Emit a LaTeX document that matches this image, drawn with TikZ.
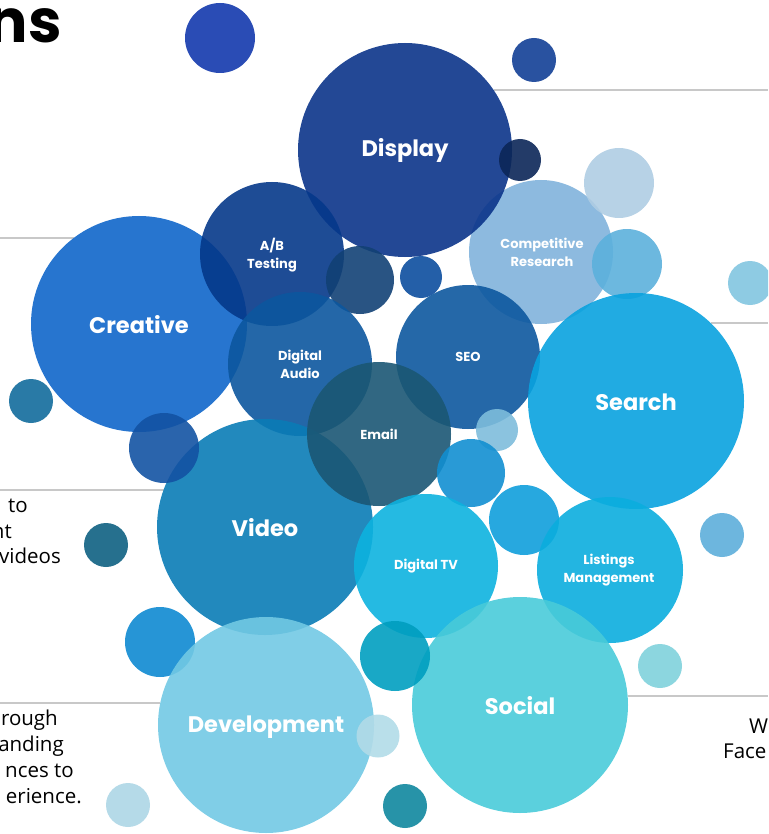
\documentclass[tikz,border=0pt]{standalone}
\usepackage{fontspec}
\setmainfont{Open Sans}
\newfontfamily\labfont{Poppins}
\newfontfamily\headfont{Poppins}
\definecolor{ruleGrey}{RGB}{200,200,200}
\definecolor{cTopBlue}{RGB}{19,57,173}
\definecolor{cTopRight}{RGB}{18,63,150}
\definecolor{cDisplay}{RGB}{11,52,138}
\definecolor{cDarkSmall}{RGB}{11,38,88}
\definecolor{cLightTR}{RGB}{175,205,227}
\definecolor{cAB}{RGB}{5,56,138}
\definecolor{cDarkMid}{RGB}{18,65,117}
\definecolor{cSmallMid}{RGB}{12,78,158}
\definecolor{cComp}{RGB}{129,179,220}
\definecolor{cCompSide}{RGB}{92,176,220}
\definecolor{cRightPale}{RGB}{130,197,224}
\definecolor{cCreative}{RGB}{15,102,202}
\definecolor{cLeftTeal}{RGB}{18,108,156}
\definecolor{cUnderCreative}{RGB}{19,83,163}
\definecolor{cAudio}{RGB}{12,87,158}
\definecolor{cSEO}{RGB}{13,88,159}
\definecolor{cSearch}{RGB}{9,162,223}
\definecolor{cEmail}{RGB}{27,87,116}
\definecolor{cPaleMid}{RGB}{126,189,220}
\definecolor{cMidBlue}{RGB}{18,143,209}
\definecolor{cVideo}{RGB}{10,124,182}
\definecolor{cLeftDark}{RGB}{14,96,130}
\definecolor{cSky}{RGB}{15,158,219}
\definecolor{cDTV}{RGB}{13,178,223}
\definecolor{cListings}{RGB}{11,173,222}
\definecolor{cRightSky}{RGB}{93,174,218}
\definecolor{cRightAqua}{RGB}{128,209,220}
\definecolor{cLeftSky}{RGB}{14,138,209}
\definecolor{cDev}{RGB}{114,201,228}
\definecolor{cTeal}{RGB}{0,158,192}
\definecolor{cSocial}{RGB}{73,203,217}
\definecolor{cPaleDev}{RGB}{177,219,232}
\definecolor{cBottomTeal}{RGB}{16,135,158}
\definecolor{cPaleLeft}{RGB}{173,214,229}
\tikzset{
  bub/.style={circle, draw=none, inner sep=0pt, fill opacity=0.9, text opacity=1},
  biglab/.style={text=white, inner sep=0pt, font=\labfont\bfseries\fontsize{22.5}{26}\selectfont, align=center},
  smalllab/.style={text=white, inner sep=0pt, font=\labfont\bfseries\fontsize{13}{18}\selectfont, align=center},
  rulestyle/.style={draw=ruleGrey, line width=1.6pt},
  bodytext/.style={font=\fontsize{20.5}{26}\selectfont, text=black, inner sep=0pt},
}
\begin{document}
\begin{tikzpicture}[x=1pt, y=-1pt]
\useasboundingbox (0,0) rectangle (768,834);
\clip (0,0) rectangle (768,834);
% heading fragment
\node[font=\headfont\bfseries\fontsize{60}{62}\selectfont, anchor=base east, inner sep=0pt] (head) at (62,43) {ns};
% grey rules
\coordinate (r1a) at (494,90);  \coordinate (r1b) at (768,90);
\coordinate (r2a) at (0,238);   \coordinate (r2b) at (74,238);
\coordinate (r3a) at (711,323); \coordinate (r3b) at (768,323);
\coordinate (r4a) at (0,490);   \coordinate (r4b) at (164,490);
\coordinate (r5a) at (0,703);   \coordinate (r5b) at (160,703);
\coordinate (r6a) at (628,696); \coordinate (r6b) at (768,696);
\draw[rulestyle] (r1a) -- (r1b);
\draw[rulestyle] (r2a) -- (r2b);
\draw[rulestyle] (r3a) -- (r3b);
\draw[rulestyle] (r4a) -- (r4b);
\draw[rulestyle] (r5a) -- (r5b);
\draw[rulestyle] (r6a) -- (r6b);
% bubbles
\node[bub, fill=cTopBlue, minimum size=70pt] (b1) at (220,38) {};
\node[bub, fill=cTopRight, minimum size=44pt] (b2) at (534,60) {};
\node[bub, fill=cComp, minimum size=144pt] (comp) at (541,252) {};
\node[bub, fill=cDisplay, minimum size=214pt] (display) at (405,150) {};
\node[bub, fill=cDarkSmall, minimum size=42pt] (b3) at (520,160) {};
\node[bub, fill=cLightTR, minimum size=70pt] (b4) at (619,183) {};
\node[bub, fill=cCompSide, minimum size=70pt] (b5) at (627,264) {};
\node[bub, fill=cRightPale, minimum size=44pt] (b6) at (750,283) {};
\node[bub, fill=cCreative, minimum size=216pt] (creative) at (139,324) {};
\node[bub, fill=cAB, minimum size=144pt] (ab) at (272,254) {};
\node[bub, fill=cDarkMid, minimum size=68pt] (b7) at (360,280) {};
\node[bub, fill=cSmallMid, minimum size=42pt] (b8) at (421,277) {};
\node[bub, fill=cAudio, minimum size=144pt] (audio) at (300,364) {};
\node[bub, fill=cSEO, minimum size=144pt] (seo) at (468,357) {};
\node[bub, fill=cSearch, minimum size=216pt] (search) at (636,401) {};
\node[bub, fill=cLeftTeal, minimum size=44pt] (b9) at (31,401) {};
\node[bub, fill=cVideo, minimum size=216pt] (video) at (265,527) {};
\node[bub, fill=cUnderCreative, minimum size=70pt] (b10) at (164,448) {};
\node[bub, fill=cEmail, minimum size=144pt] (email) at (379,434) {};
\node[bub, fill=cPaleMid, minimum size=42pt] (b11) at (497,430) {};
\node[bub, fill=cMidBlue, minimum size=68pt] (b12) at (471,473) {};
\node[bub, fill=cLeftDark, minimum size=44pt] (b13) at (106,545) {};
\node[bub, fill=cSky, minimum size=70pt] (b14) at (524,520) {};
\node[bub, fill=cDTV, minimum size=144pt] (dtv) at (426,566) {};
\node[bub, fill=cListings, minimum size=146pt] (listings) at (610,570) {};
\node[bub, fill=cRightSky, minimum size=44pt] (b15) at (722,535) {};
\node[bub, fill=cRightAqua, minimum size=44pt] (b16) at (660,666) {};
\node[bub, fill=cLeftSky, minimum size=70pt] (b17) at (160,642) {};
\node[bub, fill=cSocial, minimum size=216pt] (social) at (520,705) {};
\node[bub, fill=cDev, minimum size=216pt] (dev) at (266,725) {};
\node[bub, fill=cTeal, minimum size=70pt] (b18) at (395,656) {};
\node[bub, fill=cPaleDev, minimum size=43pt] (b19) at (378,736) {};
\node[bub, fill=cBottomTeal, minimum size=44pt] (b20) at (405,806) {};
\node[bub, fill=cPaleLeft, minimum size=44pt] (b21) at (128,805) {};
% labels
\node[biglab] (tDisplay) at (405,150) {Display};
\node[smalllab] (tAB) at (272,255) {A/B\\Testing};
\node[smalllab] (tComp) at (542,252) {Competitive\\Research};
\node[biglab] (tCreative) at (139,325) {Creative};
\node[smalllab] (tAudio) at (300,364) {Digital\\Audio};
\node[smalllab] (tSEO) at (468,357) {SEO};
\node[biglab] (tSearch) at (636,402) {Search};
\node[smalllab] (tEmail) at (379,434) {Email};
\node[biglab] (tVideo) at (265,528) {Video};
\node[smalllab] (tDTV) at (426,566) {Digital TV};
\node[smalllab] (tListings) at (609,570) {Listings\\Management};
\node[biglab] (tSocial) at (520,706) {Social};
\node[biglab] (tDev) at (266,727) {Development};
% side texts
\node[bodytext, anchor=base east] (s1) at (28,512) {to};
\node[bodytext, anchor=base east] (s2) at (12,538) {nt};
\node[bodytext, anchor=base east] (s3) at (61,563) {videos};
\node[bodytext, anchor=base east] (s4) at (58,725) {rough};
\node[bodytext, anchor=base east] (s5) at (64,751) {anding};
\node[bodytext, anchor=base east] (s6) at (74,777) {nces to};
\node[bodytext, anchor=base east] (s7) at (82,803) {erience.};
\node[bodytext, anchor=base west] (s8) at (749,733) {W};
\node[bodytext, anchor=base west] (s9) at (723,758) {Face};
\end{tikzpicture}
\end{document}
